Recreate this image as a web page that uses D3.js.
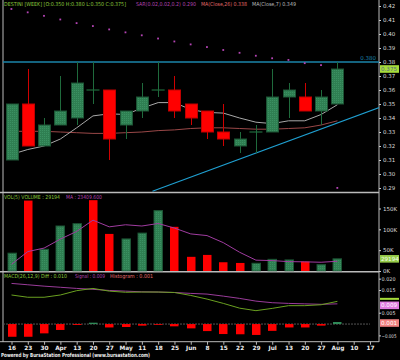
<!DOCTYPE html>
<html>
<head>
<meta charset="utf-8">
<script src="https://cdn.jsdelivr.net/npm/d3@7"></script>
<style>
  html, body { margin: 0; padding: 0; background: #000; }
  svg { display: block; font-family: "DejaVu Sans", sans-serif; }
</style>
</head>
<body>
<svg id="chart" width="400" height="360"></svg>
<script>
// week labels on the x axis (2009, weekly)
const dates = ["16","23","30","Apr","13","20","27","May","11","18","25","Jun","8","15","22","29","Jul","13","20","27","Aug","10","17"];

// candles
const open  = [0.310,0.350,0.320,0.335,0.340,0.360,0.360,0.335,0.345,0.360,0.360,0.350,0.345,0.330,0.320,0.330,0.330,0.355,0.355,0.345,0.350];
const high  = [0.350,0.375,0.340,0.370,0.380,0.380,0.360,0.345,0.365,0.380,0.370,0.350,0.345,0.350,0.330,0.335,0.375,0.365,0.365,0.360,0.380];
const low   = [0.310,0.320,0.320,0.335,0.335,0.350,0.310,0.325,0.340,0.355,0.340,0.335,0.325,0.320,0.315,0.315,0.330,0.340,0.345,0.335,0.350];
const close = [0.350,0.320,0.335,0.345,0.365,0.360,0.325,0.345,0.355,0.360,0.345,0.340,0.330,0.325,0.325,0.330,0.355,0.360,0.345,0.355,0.375];

// overlays
const ma7  = [0.314,0.3175,0.320,0.325,0.333,0.3415,0.343,0.3425,0.347,0.351,0.351,0.346,0.344,0.3435,0.340,0.337,0.336,0.338,0.338,0.3425,0.3495];
const ma26 = [0.3305,0.3305,0.3305,0.330,0.3295,0.329,0.329,0.3295,0.330,0.331,0.3315,0.3325,0.333,0.333,0.3325,0.332,0.332,0.3325,0.333,0.335,0.338];
const sar  = [0.4178,0.4154,0.4129,0.4103,0.4077,0.4056,0.4032,0.4011,0.399,0.3967,0.3946,0.3925,0.3906,0.3885,0.3865,0.3844,0.3826,0.3814,0.3791,0.3777,0.290];
const resistance = 0.38;
const trend = [[8.65, 0.2877], [22.6, 0.3476]];

// volume
const volume = [42800,169000,52000,108000,113500,170000,89000,77000,91000,145000,106000,34000,38600,21000,19300,18600,28000,26600,22500,15200,29194];
const volMA  = [16000,46600,55000,76600,95000,122000,106000,111000,108000,114000,103000,89000,85000,68000,45000,26000,25000,22500,22000,21000,23409.6];

// MACD
const macdDiff   = [0.0128,0.0118,0.0118,0.0128,0.0147,0.0157,0.0145,0.0140,0.0141,0.0141,0.0139,0.0126,0.0110,0.0091,0.0070,0.0059,0.0069,0.0081,0.0081,0.0085,0.0100];
const macdSignal = [0.0179,0.0173,0.0167,0.0162,0.0157,0.0153,0.0148,0.0145,0.0142,0.0141,0.0139,0.0135,0.0132,0.0123,0.0113,0.0101,0.0094,0.0091,0.0089,0.0087,0.0089];
const macdHist   = [-0.0056,-0.0056,-0.0041,-0.0026,-0.0004,0.0006,-0.0015,-0.0013,-0.0007,-0.0001,-0.0010,-0.0019,-0.0031,-0.0044,-0.0045,-0.0048,-0.0030,-0.0015,-0.0015,-0.0007,0.0009];

const priceTicks = [0.29,0.30,0.31,0.32,0.33,0.34,0.35,0.36,0.37,0.38,0.39,0.40,0.41,0.42];
const volTicks = [0, 50000, 100000, 150000];
// 0.000 and 0.010 sit under the value boxes in the original
const macdTicks = [-0.005, 0.005, 0.015, 0.020];

const svg = d3.select("#chart");
const L = 3, R = 379;

const GREEN = "#2f7f52", GREEN_EDGE = "#1c5434", RED = "#ff0000", RED_EDGE = "#c00000";

// dotted green fill like the original
const defs = svg.append("defs");
const pat = defs.append("pattern").attr("id", "dots").attr("width", 2).attr("height", 2).attr("patternUnits", "userSpaceOnUse");
pat.append("rect").attr("width", 2).attr("height", 2).attr("fill", GREEN);
pat.append("rect").attr("width", 1).attr("height", 1).attr("fill", "#3b9162");

function clip(id, y0, y1) {
  defs.append("clipPath").attr("id", id).append("rect")
    .attr("x", L).attr("y", y0).attr("width", R - L).attr("height", y1 - y0);
}
clip("cMain", 0, 192);
clip("cVol", 193, 271.5);
clip("cMacd", 273, 341);

svg.append("rect").attr("width", 400).attr("height", 360).attr("fill", "#000");

const x = d3.scaleLinear().domain([0, dates.length - 1]).range([11.5, 370]);
const yP = d3.scaleLinear().domain([0.29, 0.42]).range([188, 6]);
const yV = d3.scaleLinear().domain([0, 150000]).range([271, 208.5]);
const yM = d3.scaleLinear().domain([-0.005, 0.015]).range([335.4, 290]);

// frame
svg.append("line").attr("x1", L).attr("x2", L).attr("y1", 0).attr("y2", 342).attr("stroke", "#bbb");
svg.append("line").attr("x1", R).attr("x2", R).attr("y1", 0).attr("y2", 342).attr("stroke", "#bbb");
[192.5, 271.8].forEach(y => {
  svg.append("line").attr("x1", 0).attr("x2", R).attr("y1", y).attr("y2", y).attr("stroke", "#bbb").attr("stroke-width", 1.6);
});

// ---------- main panel ----------
const gMain = svg.append("g").attr("clip-path", "url(#cMain)");
const idx = d3.range(close.length);

gMain.append("line")
  .attr("x1", L).attr("x2", R).attr("y1", yP(resistance)).attr("y2", yP(resistance))
  .attr("stroke", "#1b84aa").attr("stroke-width", 1.5);

gMain.append("line")
  .attr("x1", x(trend[0][0])).attr("y1", yP(trend[0][1]))
  .attr("x2", x(trend[1][0])).attr("y2", yP(trend[1][1]))
  .attr("stroke", "#1f9fd0").attr("stroke-width", 1.2);

const line = (ys, yScale) => d3.line().x((d, i) => x(i)).y(d => yScale(d))(ys);
gMain.append("path").attr("d", line(ma26, yP)).attr("fill", "none").attr("stroke", "#9a4848").attr("stroke-width", 1);
gMain.append("path").attr("d", line(ma7, yP)).attr("fill", "none").attr("stroke", "#a8a8a8").attr("stroke-width", 1);

const isUp = i => close[i] >= open[i];
const cw = 12;

gMain.selectAll("line.wick").data(idx).join("line")
  .attr("class", "wick")
  .attr("x1", i => Math.round(x(i)) + 0.5).attr("x2", i => Math.round(x(i)) + 0.5)
  .attr("y1", i => yP(high[i])).attr("y2", i => yP(low[i]))
  .attr("stroke", i => isUp(i) ? "#1f6a3c" : "#d00000").attr("stroke-width", 1);

gMain.selectAll("rect.body").data(idx.filter(i => open[i] !== close[i])).join("rect")
  .attr("class", "body")
  .attr("x", i => Math.round(x(i)) - cw / 2 + 0.5)
  .attr("width", cw)
  .attr("y", i => yP(Math.max(open[i], close[i])))
  .attr("height", i => Math.abs(yP(open[i]) - yP(close[i])))
  .attr("fill", i => isUp(i) ? "url(#dots)" : RED)
  .attr("stroke", i => isUp(i) ? GREEN_EDGE : RED_EDGE);

gMain.selectAll("line.doji").data(idx.filter(i => open[i] === close[i])).join("line")
  .attr("class", "doji")
  .attr("x1", i => x(i) - 6.5).attr("x2", i => x(i) + 6.5)
  .attr("y1", i => yP(close[i])).attr("y2", i => yP(close[i]))
  .attr("stroke", "#1f6a3c").attr("stroke-width", 1.2);

gMain.selectAll("rect.sar").data(idx).join("rect")
  .attr("class", "sar")
  .attr("x", i => x(i) - 1).attr("y", i => yP(sar[i]) - 1)
  .attr("width", 1.8).attr("height", 1.8).attr("fill", "#b444b4");

svg.append("text").attr("x", 376).attr("y", yP(resistance) - 2).attr("text-anchor", "end")
  .attr("font-size", 5.5).attr("fill", "#1b84aa").text("0.380");

// ---------- volume panel ----------
const gVol = svg.append("g").attr("clip-path", "url(#cVol)");
const volUp = i => i === 0 || close[i] > close[i - 1];
gVol.selectAll("rect.vol").data(idx).join("rect")
  .attr("class", "vol")
  .attr("x", i => Math.round(x(i)) - 4)
  .attr("width", 8.5)
  .attr("y", i => yV(volume[i]))
  .attr("height", i => yV(0) - yV(volume[i]))
  .attr("fill", i => volUp(i) ? "url(#dots)" : RED)
  .attr("stroke", i => volUp(i) ? GREEN_EDGE : "none");
gVol.append("path").attr("d", line(volMA, yV)).attr("fill", "none").attr("stroke", "#a03ca0").attr("stroke-width", 1);

// ---------- MACD panel ----------
const gMacd = svg.append("g").attr("clip-path", "url(#cMacd)");
gMacd.append("line").attr("x1", L).attr("x2", 370).attr("y1", yM(0)).attr("y2", yM(0))
  .attr("stroke", "#555").attr("stroke-dasharray", "2,1");
gMacd.selectAll("rect.hist").data(idx).join("rect")
  .attr("class", "hist")
  .attr("x", i => Math.round(x(i)) - 4)
  .attr("width", 8.5)
  .attr("y", i => Math.min(yM(0), yM(macdHist[i])))
  .attr("height", i => Math.max(0.8, Math.abs(yM(macdHist[i]) - yM(0))))
  .attr("fill", i => macdHist[i] >= 0 ? "#2f8a58" : RED);
gMacd.append("path").attr("d", line(macdSignal, yM)).attr("fill", "none").attr("stroke", "#9a3c9a").attr("stroke-width", 1);
gMacd.append("path").attr("d", line(macdDiff, yM)).attr("fill", "none").attr("stroke", "#6aa020").attr("stroke-width", 1);

// ---------- axes ----------
function styleAxis(g) {
  g.select(".domain").remove();
  g.selectAll(".tick line").attr("stroke", "#ccc");
  g.selectAll(".tick text").attr("fill", "#ddd").attr("font-size", 5.5).attr("font-family", "DejaVu Sans");
}
svg.append("g").attr("transform", `translate(${R},0)`)
  .call(d3.axisRight(yP).tickValues(priceTicks).tickFormat(d3.format(".2f")).tickSize(2).tickPadding(2))
  .call(styleAxis);
svg.append("g").attr("transform", `translate(${R},0)`)
  .call(d3.axisRight(yV).tickValues(volTicks).tickFormat(d => d / 1000 + "K").tickSize(2).tickPadding(2))
  .call(styleAxis);
svg.append("g").attr("transform", `translate(${R},0)`)
  .call(d3.axisRight(yM).tickValues(macdTicks).tickFormat(d3.format(".3f")).tickSize(2).tickPadding(0.5))
  .call(styleAxis)
  .call(g => g.selectAll(".tick text").attr("font-size", 5.2).attr("textLength", d => d < 0 ? 15 : 14).attr("lengthAdjust", "spacingAndGlyphs"));

svg.append("line").attr("x1", 0).attr("x2", R).attr("y1", 341.7).attr("y2", 341.7).attr("stroke", "#bbb");
svg.append("g").attr("transform", "translate(0,341.7)")
  .call(d3.axisBottom(x).tickValues(d3.range(dates.length)).tickFormat(i => dates[i]).tickSize(3).tickPadding(1))
  .call(g => {
    g.select(".domain").remove();
    g.selectAll(".tick line").attr("stroke", "#bbb");
    g.selectAll(".tick text").attr("fill", "#eee").attr("font-size", 5.8).attr("font-weight", "bold").attr("font-family", "DejaVu Sans");
  });

// value boxes on the right axis
function valueBox(y, label, bg, fg) {
  svg.append("rect").attr("x", R + 1).attr("y", y - 3.8).attr("width", 19).attr("height", 7.6).attr("fill", bg);
  svg.append("text").attr("x", R + 2).attr("y", y + 2).attr("font-size", 5.6).attr("fill", fg).text(label);
}
valueBox(yP(close[close.length - 1]), d3.format(".3f")(close[close.length - 1]), "#a6dc3a", "#5a6a80");
valueBox(yV(volume[volume.length - 1]), String(volume[volume.length - 1]), "#96cc48", "#f4fff0");
svg.append("rect").attr("x", R + 1).attr("y", yM(macdDiff[macdDiff.length - 1]) - 3.5).attr("width", 19).attr("height", 2).attr("fill", "#a6dc3a");
valueBox(yM(macdSignal[macdSignal.length - 1]) + 1.5, d3.format(".3f")(macdSignal[macdSignal.length - 1]), "#e07ae0", "#fff");
valueBox(yM(macdHist[macdHist.length - 1]) + 1, d3.format(".3f")(macdHist[macdHist.length - 1]), "#f08080", "#fff");

// ---------- headers ----------
function header(parts, y) {
  parts.forEach(p => {
    svg.append("text").attr("x", p[0]).attr("y", y).attr("font-size", 5.4)
      .attr("fill", p[2]).attr("textLength", p[3]).attr("lengthAdjust", "spacingAndGlyphs").text(p[1]);
  });
}
header([
  [4, "DESTINI [WEEK] [O:0.350 H:0.380 L:0.350 C:0.375]", "#8cc83c", 122],
  [136, "SAR(0.02,0.02,0.2) 0.290", "#b444b4", 60],
  [201, "MA(Close,26) 0.338", "#e06a6a", 46],
  [252, "MA(Close,7) 0.349", "#bbbbbb", 44]
], 6);
header([
  [4, "VOL(5) VOLUME : 29194", "#8cc83c", 56],
  [66, "MA : 23409.600", "#b444b4", 36]
], 199);
header([
  [4, "MACD(26,12,9) Diff : 0.010", "#8cc83c", 63],
  [75, "Signal : 0.009", "#b444b4", 30],
  [110, "Histogram : 0.001", "#e06a6a", 43]
], 278);

svg.append("text").attr("x", 1).attr("y", 357).attr("font-size", 5.6).attr("font-weight", "bold")
  .attr("fill", "#eee").attr("textLength", 149).attr("lengthAdjust", "spacingAndGlyphs")
  .text("Powered by BursaStation Professional (www.bursastation.com)");
</script>
</body>
</html>
